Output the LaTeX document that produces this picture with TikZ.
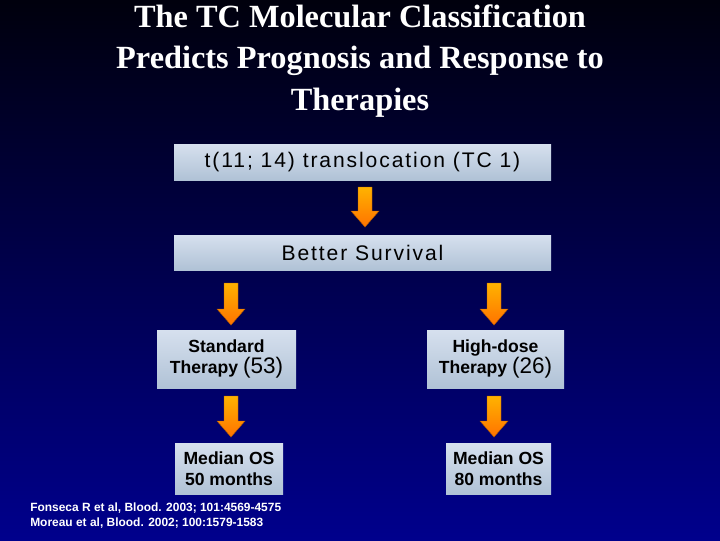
\documentclass[tikz,border=0pt]{standalone}
\usepackage{fontspec}
\setmainfont{Liberation Serif}
\newfontfamily\arialfont{Liberation Sans}
\newfontfamily\arialwide[LetterSpace=9]{Liberation Sans}
\usetikzlibrary{positioning,calc}
\definecolor{boxtop}{RGB}{214,224,238}
\definecolor{boxbot}{RGB}{176,194,214}
\tikzset{box/.style={draw=none,top color=boxtop,bottom color=boxbot,
    inner sep=0pt,align=center,font=\arialfont\bfseries\fontsize{12.5}{15}\selectfont,text=black},
  arrowfill/.style={top color=orange!60!yellow,bottom color=orange!90!red,draw=orange!70!black,line width=0.3pt}}
% block arrow from top point #1 to bottom point #2
\newcommand{\blockarrow}[2]{%
  \path[arrowfill] let \p1=#1, \p2=#2 in
    ($(\x1,\y1)+(-7,0)$) -- ($(\x1,\y2)+(-7,16)$) -- ($(\x1,\y2)+(-14,16)$) -- (\x1,\y2)
    -- ($(\x1,\y2)+(14,16)$) -- ($(\x1,\y2)+(7,16)$) -- ($(\x1,\y1)+(7,0)$) -- cycle;}
\begin{document}
\begin{tikzpicture}[x=0.025cm,y=0.025cm]
  \shade[top color=black!95!blue,bottom color=blue!55!black,middle color=blue!30!black] (0,0) rectangle (720,-540);
  \useasboundingbox (0,0) rectangle (720,-540);

  % title
  \node[text=white,font=\bfseries\fontsize{23}{29.8}\selectfont,align=center] (title) at (360,-61)
    {The TC Molecular Classification\\Predicts Prognosis and Response to\\Therapies};

  \node[box,minimum width=377*0.025cm,minimum height=36*0.025cm,font=\arialwide\fontsize{15}{18}\selectfont]
    (trans) at (362.5,-162) {t(11; 14) translocation (TC 1)};
  \node[box,minimum width=377*0.025cm,minimum height=35*0.025cm,font=\arialwide\fontsize{15}{18}\selectfont]
    (surv) at (362.5,-252.5) {Better Survival};

  \node[box,minimum width=139*0.025cm,minimum height=58*0.025cm] (std) at (226.5,-359)
    {Standard\\Therapy {\mdseries\fontsize{16}{18}\selectfont(53)}};
  \node[box,minimum width=137*0.025cm,minimum height=58*0.025cm] (hd) at (495.5,-359)
    {High-dose\\Therapy {\mdseries\fontsize{16}{18}\selectfont(26)}};

  \node[box,minimum width=108*0.025cm,minimum height=51*0.025cm] (os1) at (229,-468.5)
    {Median OS\\50 months};
  \node[box,minimum width=105*0.025cm,minimum height=51*0.025cm] (os2) at (498.5,-468.5)
    {Median OS\\80 months};

  % arrows
  \blockarrow{(365,-187)}{(365,-227)}
  \blockarrow{(231,-283)}{(231,-325)}
  \blockarrow{(494,-283)}{(494,-325)}
  \blockarrow{(231,-396)}{(231,-437)}
  \blockarrow{(494,-396)}{(494,-437)}

  \node[anchor=north west,text=white,align=left,inner sep=0pt,
    font=\arialfont\bfseries\fontsize{8.5}{10.5}\selectfont] (refs) at (30,-503)
    {Fonseca R et al, Blood. 2003; 101:4569-4575\\Moreau et al, Blood. 2002; 100:1579-1583};
\end{tikzpicture}
\end{document}
